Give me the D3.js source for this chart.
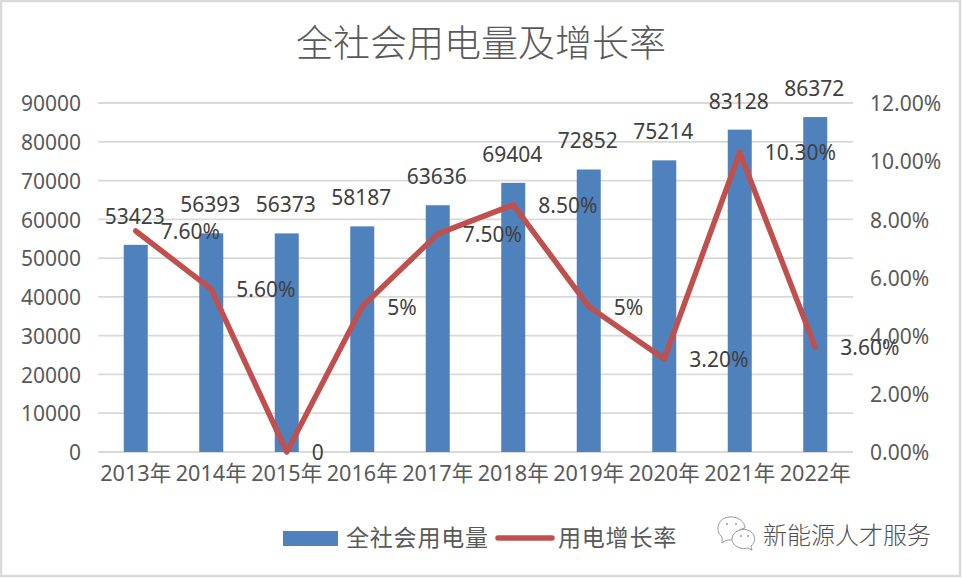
<!DOCTYPE html>
<html><head><meta charset="utf-8">
<style>html,body{margin:0;padding:0;background:#fff}svg{display:block}text{font-family:"Noto Sans","Noto Sans CJK SC",sans-serif}</style>
<script src="https://cdn.jsdelivr.net/npm/d3@7/dist/d3.min.js"></script></head><body>
<script>
const categories=["2013年","2014年","2015年","2016年","2017年","2018年","2019年","2020年","2021年","2022年"];
const usage=[53423,56393,56373,58187,63636,69404,72852,75214,83128,86372];
const growth=[7.6,5.6,0,5,7.5,8.5,5,3.2,10.3,3.6];
const growthLabels=["7.60%","5.60%","0","5%","7.50%","8.50%","5%","3.20%","10.30%","3.60%"];
const leftTicks=d3.range(0,90001,10000);
const rightTicks=d3.range(0,12.01,2);
const W=962,H=578,L=98,R=853,T=103,B=452;
const svg=d3.select("body").append("svg").attr("width",W).attr("height",H);
svg.append("rect").attr("x",1).attr("y",1).attr("width",W-3).attr("height",H-3).attr("fill","#fff").attr("stroke","#d9d9d9").attr("stroke-width",2.5);
const x=d3.scaleBand().domain(categories).range([L,R]);
const yL=d3.scaleLinear().domain([0,90000]).range([B,T]);
const yR=d3.scaleLinear().domain([0,12]).range([B,T]);
const cx=i=>x(categories[i])+x.bandwidth()/2;
const tc="#595959",lc="#404040";
const gl=svg.append("g").attr("transform",`translate(${L},1)`).call(d3.axisLeft(yL).tickValues(leftTicks).tickSize(0).tickPadding(17).tickFormat(d3.format("d")));
gl.select(".domain").remove();
gl.selectAll("text").attr("font-size",21).attr("fill",tc);
svg.append("g").selectAll("line").data(leftTicks).join("line").attr("x1",L).attr("x2",R).attr("y1",d=>yL(d)).attr("y2",d=>yL(d)).attr("stroke","#d9d9d9").attr("stroke-width",1.8);
const gr=svg.append("g").attr("transform",`translate(${R},1)`).call(d3.axisRight(yR).tickValues(rightTicks).tickSize(0).tickPadding(17).tickFormat(d=>d.toFixed(2)+"%"));
gr.select(".domain").remove();
gr.selectAll("text").attr("font-size",21).attr("fill",tc);
const bw=24;
svg.append("g").selectAll("rect").data(usage).join("rect").attr("x",(d,i)=>cx(i)-bw/2).attr("width",bw).attr("y",d=>yL(d)).attr("height",d=>B-yL(d)).attr("fill","#4f81bd");
const gb=svg.append("g").attr("transform",`translate(0,${B})`).call(d3.axisBottom(x).tickSize(0).tickPadding(14));
gb.select(".domain").remove();
gb.selectAll("text").attr("font-size",21.6).attr("fill",tc);
const line=d3.line().x((d,i)=>cx(i)).y(d=>yR(d));
svg.append("path").attr("d",line(growth)).attr("fill","none").attr("stroke","#c0504d").attr("stroke-width",5.5).attr("stroke-linejoin","round").attr("stroke-linecap","round");
svg.append("g").selectAll("text").data(usage).join("text").attr("x",(d,i)=>cx(i)-1).attr("y",d=>yL(d)-21).attr("text-anchor","middle").attr("font-size",21).attr("fill",lc).text(d=>d);
svg.append("g").selectAll("text").data(growth).join("text").attr("x",(d,i)=>cx(i)+25).attr("y",d=>yR(d)+8).attr("font-size",21).attr("fill",lc).text((d,i)=>growthLabels[i]);
svg.append("text").attr("x",481).attr("y",57).attr("text-anchor","middle").attr("font-size",37).attr("font-weight",300).attr("fill",tc).text("全社会用电量及增长率");
svg.append("rect").attr("x",283).attr("y",531).attr("width",55).attr("height",15).attr("fill","#4f81bd");
svg.append("text").attr("x",346).attr("y",546).attr("font-size",23).attr("letter-spacing",0.8).attr("fill",tc).text("全社会用电量");
svg.append("line").attr("x1",498).attr("x2",552).attr("y1",538).attr("y2",538).attr("stroke","#c0504d").attr("stroke-width",5.5).attr("stroke-linecap","round");
svg.append("text").attr("x",558).attr("y",546).attr("font-size",23).attr("letter-spacing",0.8).attr("fill",tc).text("用电增长率");
const wc=svg.append("g").attr("fill","#fff").attr("stroke","#9a9a9a").attr("stroke-width",1);
wc.append("path").attr("d","M722 543 L722 537 C715 532 717 518 729 517 C738 516 745 522 745 528 C738 529 732 535 733 540 C729 540 727 540 725 541 Z");
wc.append("path").attr("d","M752 550 L751 546 C756 542 756 535 750 531 C743 527 732 531 732 539 C732 546 741 550 748 548 Z");
svg.append("g").attr("fill","#9a9a9a").selectAll("circle").data([[727,524],[736,524],[741,536],[748,536]]).join("circle").attr("cx",d=>d[0]).attr("cy",d=>d[1]).attr("r",1);
svg.append("text").attr("x",763).attr("y",544).attr("font-size",24).attr("font-weight",300).attr("fill","#505050").text("新能源人才服务");
</script></body></html>
